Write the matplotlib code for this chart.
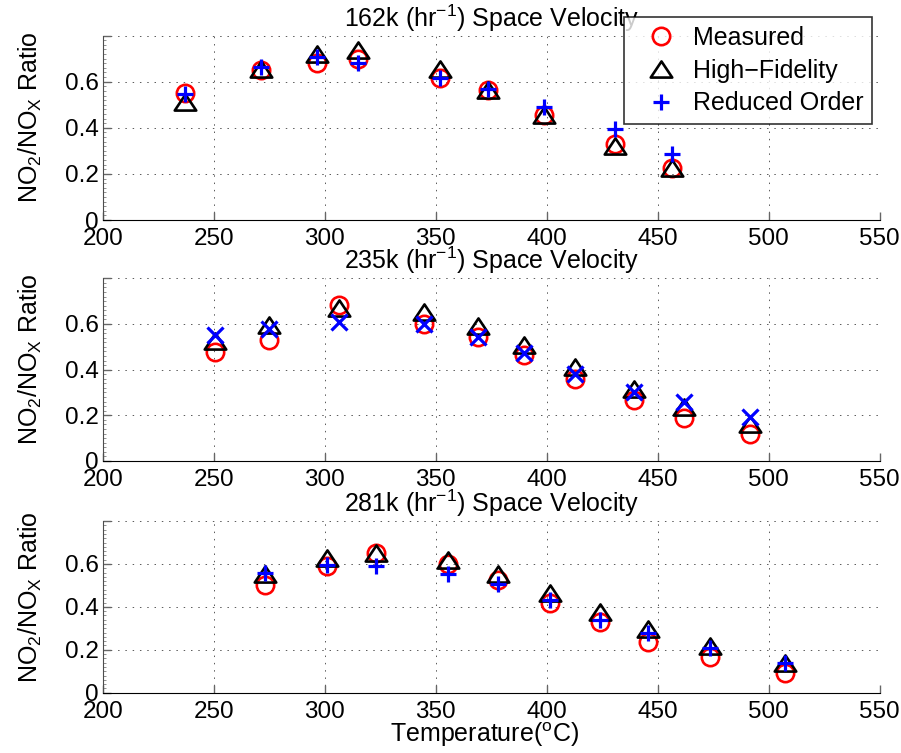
import matplotlib
matplotlib.use("Agg")
import matplotlib.pyplot as plt
from matplotlib.ticker import MultipleLocator
from matplotlib.path import Path

plt.rcParams['font.family'] = ['Liberation Sans', 'DejaVu Sans']
plt.rcParams['mathtext.fontset'] = 'custom'
plt.rcParams['mathtext.rm'] = 'Liberation Sans'
plt.rcParams['mathtext.it'] = 'Liberation Sans'

titles = ["162k (hr$^{-1}$) Space Velocity",
          "235k (hr$^{-1}$) Space Velocity",
          "281k (hr$^{-1}$) Space Velocity"]

# 162k
temp_162 = [237, 271.3, 296.3, 315, 351.8, 373.6, 398.8, 430.8, 456.4]
meas_162 = [0.552, 0.65, 0.68, 0.697, 0.614, 0.566, 0.455, 0.33, 0.224]
hf_162 = [0.513, 0.657, 0.72, 0.737, 0.657, 0.566, 0.455, 0.32, 0.224]
ro_162 = [0.545, 0.665, 0.708, 0.68, 0.618, 0.57, 0.49, 0.397, 0.286]

# 235k
temp_235 = [250.4, 275, 306.4, 344.8, 368.9, 389.8, 412.7, 439.4, 461.8, 491.7]
meas_235 = [0.478, 0.532, 0.682, 0.6, 0.541, 0.464, 0.357, 0.267, 0.187, 0.117]
hf_235 = [0.526, 0.595, 0.672, 0.653, 0.59, 0.509, 0.413, 0.315, 0.235, 0.162]
ro_235 = [0.551, 0.58, 0.609, 0.602, 0.544, 0.471, 0.383, 0.303, 0.259, 0.194]

# 281k
temp_281 = [273.3, 301, 323, 355.7, 377.9, 401.6, 423.8, 445.8, 473.5, 507.3]
meas_281 = [0.502, 0.591, 0.65, 0.6, 0.526, 0.417, 0.331, 0.238, 0.168, 0.092]
hf_281 = [0.552, 0.627, 0.652, 0.617, 0.555, 0.465, 0.376, 0.295, 0.216, 0.14]
ro_281 = [0.557, 0.596, 0.591, 0.554, 0.505, 0.432, 0.339, 0.277, 0.207, 0.137]

x_ticks = [200, 250, 300, 350, 400, 450, 500, 550]
y_ticks = [0, 0.2, 0.4, 0.6, 0.8]
y_tick_labels = ['0', '0.2', '0.4', '0.6', '']

datasets = [(temp_162, meas_162, hf_162, ro_162, '+'),
            (temp_235, meas_235, hf_235, ro_235, 'x'),
            (temp_281, meas_281, hf_281, ro_281, '+')]

# wide MATLAB-like triangle marker
tri = Path([(-1, -0.75), (1, -0.75), (0, 0.75), (-1, -0.75)],
           [Path.MOVETO, Path.LINETO, Path.LINETO, Path.CLOSEPOLY])

fig = plt.figure(figsize=(9.01, 7.53), dpi=100)
positions = [[0.114, 0.7078, 0.8624, 0.2449],
             [0.114, 0.3878, 0.8624, 0.2426],
             [0.114, 0.0801, 0.8624, 0.2279]]

FS = 17.5
handles = None
for i, (pos, (t, m, h, r, rmark)) in enumerate(zip(positions, datasets)):
    ax = fig.add_axes(pos)
    hm, = ax.plot(t, m, linestyle='none', marker='o', markersize=12.5, markerfacecolor='none',
                  markeredgecolor='red', markeredgewidth=1.9, label='Measured')
    hh, = ax.plot(t, h, linestyle='none', marker=tri, markersize=15.5, markerfacecolor='none',
                  markeredgecolor='black', markeredgewidth=1.9, label='High\u2212Fidelity')
    hr, = ax.plot(t, r, linestyle='none', marker=rmark, markersize=11.5, color='blue',
                  markeredgewidth=2.3, label='Reduced Order')
    if i == 0:
        handles = [hm, hh, hr]
    ax.set_xlim(200, 550)
    ax.set_ylim(0, 0.8)
    ax.set_xticks(x_ticks)
    ax.set_xticklabels([str(v) for v in x_ticks])
    ax.set_yticks(y_ticks)
    ax.set_yticklabels(y_tick_labels)
    ax.yaxis.set_minor_locator(MultipleLocator(0.02))
    ax.grid(True, which='major', linestyle=(0, (1.5, 6)), color='0.35', linewidth=0.7)
    ax.spines['top'].set_visible(False)
    ax.spines['right'].set_visible(False)
    ax.spines['left'].set_color('0.3')
    ax.tick_params(which='major', direction='in', length=5.5, width=1.0, labelsize=FS, color='0.4')
    ax.tick_params(axis='x', which='major', pad=6)
    ax.tick_params(axis='y', which='major', pad=3)
    ax.tick_params(axis='y', which='minor', direction='in', length=2.5, color='0.5')
    ax.set_title(titles[i], fontsize=18, pad=6.5)
    ax.set_ylabel("NO$_2$/NO$_X$ Ratio", fontsize=18)
    ax.yaxis.set_label_coords(-0.076, 0.555)
    if i == 2:
        ax.set_xlabel("Temperature($^o$C)", fontsize=18)
        ax.xaxis.set_label_coords(0.492, -0.16)

leg = fig.legend(handles=handles, loc='upper right', bbox_to_anchor=(0.9678, 0.9774),
                 fontsize=18, frameon=True, fancybox=False, edgecolor='black',
                 borderpad=0.35, labelspacing=0.35, handletextpad=0.1, handlelength=2.3,
                 borderaxespad=0)
leg.get_frame().set_linewidth(1.2)

fig.savefig("out.png", dpi=100)
